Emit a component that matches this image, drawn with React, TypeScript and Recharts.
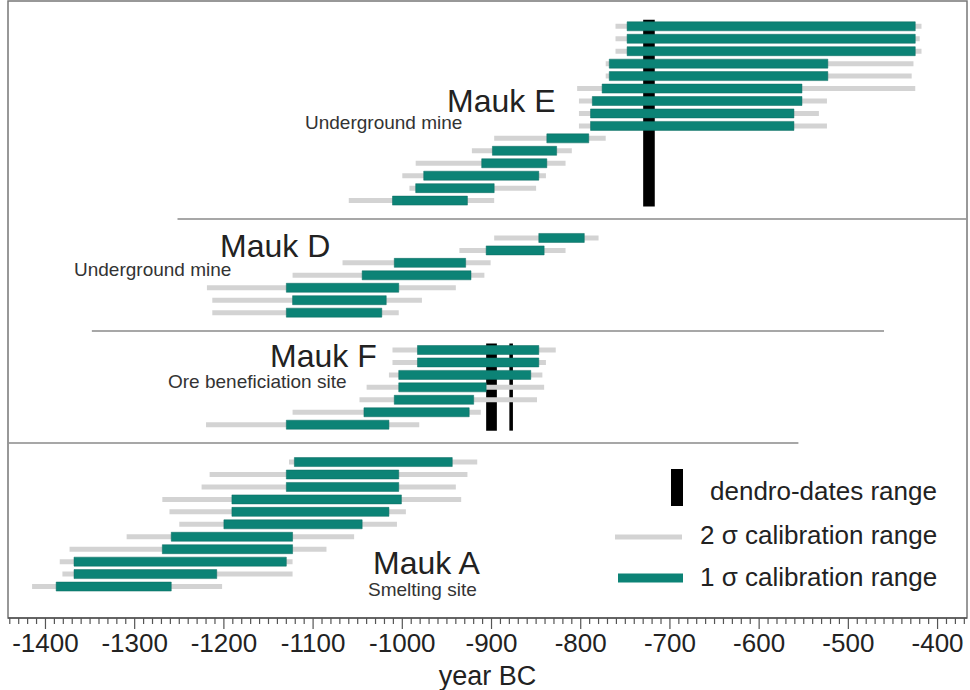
import { BarChart, Bar, XAxis, YAxis, ReferenceArea, ReferenceLine, Legend, Label } from 'recharts'

const TEAL = '#0c8376'
const GREY = '#d3d3d3'
const FONT = 'Arial, "Liberation Sans", sans-serif'
const NARROW = '"Liberation Sans Narrow", "Arial Narrow", Arial, sans-serif'

// calibrated ranges, year BC: [from, to]
const maukE2s = [
  [-761, -418], [-761, -420], [-761, -418], [-772, -427], [-772, -429],
  [-804, -425], [-802, -524], [-802, -533], [-802, -524], [-897, -772],
  [-922, -810], [-985, -817], [-1000, -839], [-992, -850], [-1060, -897],
]
const maukE1s = [
  [-748, -425], [-748, -425], [-748, -425], [-768, -523], [-768, -523],
  [-776, -552], [-787, -552], [-789, -561], [-789, -561], [-838, -791],
  [-899, -827], [-911, -838], [-976, -847], [-985, -897], [-1011, -927],
]
const maukD2s = [
  [-897, -780], [-936, -817], [-1067, -901], [-1123, -908], [-1219, -940],
  [-1213, -978], [-1213, -1004],
]
const maukD1s = [
  [-847, -796], [-906, -841], [-1009, -929], [-1045, -923], [-1130, -1004],
  [-1123, -1018], [-1130, -1023],
]
const maukF2s = [
  [-1011, -828], [-1011, -839], [-1015, -843], [-1040, -841], [-1048, -849],
  [-1123, -912], [-1220, -981],
]
const maukF1s = [
  [-983, -847], [-983, -847], [-1004, -856], [-1004, -906], [-1009, -920],
  [-1043, -925], [-1130, -1015],
]
const maukA2s = [
  [-1127, -916], [-1216, -927], [-1225, -940], [-1269, -934], [-1261, -996],
  [-1250, -1006], [-1309, -1054], [-1373, -1085], [-1384, -1123], [-1381, -1123],
  [-1415, -1202],
]
const maukA1s = [
  [-1121, -944], [-1130, -1004], [-1130, -1004], [-1191, -1001], [-1191, -1015],
  [-1200, -1045], [-1259, -1123], [-1269, -1123], [-1368, -1130], [-1368, -1208],
  [-1388, -1259],
]

// dendro-dates ranges
const dendroE = [[-730, -717]]
const dendroF = [[-906, -894], [-880, -876]]

const majorTicks = [-1400, -1300, -1200, -1100, -1000, -900, -800, -700, -600, -500, -400]
const minorTicks: number[] = []
for (let t = -1440; t <= -370; t += 10) minorTicks.push(t)

const section = (tag: string, two: number[][], one: number[][]) =>
  two.map((r, i) => ({ id: `${tag}${i + 1}`, two: r, one: one[i] }))
const spacer = (tag: string) => [0, 1].map((i) => ({ id: `${tag}${i}`, two: null, one: null }))

const rows = [
  ...section('E', maukE2s, maukE1s),
  ...spacer('gapED'),
  ...section('D', maukD2s, maukD1s),
  ...spacer('gapDF'),
  ...section('F', maukF2s, maukF1s),
  ...spacer('gapFA'),
  ...section('A', maukA2s, maukA1s),
]

const YearTick = ({ x, y, payload }: any) => {
  const major = majorTicks.includes(payload.value)
  return (
    <g>
      <line x1={x} x2={x} y1={y} y2={y + (major ? 11 : 6)} stroke="#555" strokeWidth={1.2} />
      {major && (
        <text x={x} y={y + 34} textAnchor="middle" fontSize={26} fontFamily={NARROW} fill="#222">
          {payload.value}
        </text>
      )}
    </g>
  )
}

const LegendBox = ({ payload }: any) => {
  const items = [...(payload || [])].sort((a: any, b: any) =>
    a.dataKey === 'two' ? -1 : b.dataKey === 'two' ? 1 : 0)
  return (
    <svg width={370} height={140} style={{ display: 'block' }}>
      <rect x={71} y={9} width={12} height={37} fill="#000" />
      <text x={110} y={40} fontSize={26} fontFamily={FONT} fill="#222">dendro-dates range</text>
      {items.map((it: any, i: number) => (
        <g key={i}>
          <line x1={15 + i * 3} x2={82 + i} y1={77 + i * 41} y2={77 + i * 41} stroke={it.color}
            strokeWidth={it.dataKey === 'two' ? 5 : 9} />
          <text x={100} y={84 + i * 42} fontSize={26} fontFamily={FONT} fill="#222">{it.value}</text>
        </g>
      ))}
    </svg>
  )
}

const title = { fontSize: 32, fontFamily: FONT, fill: '#222' }
const sub = { fontSize: 19, fontFamily: FONT, fill: '#333' }

export default function App() {
  return (
    <div style={{ position: 'absolute', left: 0, top: 0, width: 970, height: 690, background: '#fff' }}>
      <BarChart width={970} height={690} data={rows} layout="vertical"
        margin={{ top: 1, right: 3, bottom: 0, left: 8 }}>
        <rect x={8} y={1} width={959} height={617} fill="none" stroke="#777" strokeWidth={1.5} />
        <XAxis type="number" domain={[-1442, -367]} allowDataOverflow ticks={minorTicks}
          interval={0} tick={<YearTick />} tickLine={false} tickSize={0} tickMargin={0}
          height={72} axisLine={{ stroke: '#555', strokeWidth: 1.5 }}>
          <Label value="year BC" position="insideBottom" offset={5} fontSize={27}
            fontFamily={NARROW} fill="#222" />
        </XAxis>
        <YAxis yAxisId="g" type="category" dataKey="id" hide padding={{ top: 18.8, bottom: 25.5 }} />
        <YAxis yAxisId="s" type="category" dataKey="id" hide padding={{ top: 18.8, bottom: 25.5 }} />
        <Bar yAxisId="g" dataKey="two" name="2 σ calibration range" fill={GREY} barSize={5}
          isAnimationActive={false} />
        <Bar yAxisId="s" dataKey="one" name="1 σ calibration range" fill={TEAL} barSize={9}
          stroke="#0a6b61" strokeWidth={0.5} isAnimationActive={false} />
        <ReferenceLine yAxisId="s" position="start" stroke="#8a8a8a" strokeWidth={1.5}
          segment={[{ x: -1252, y: 'gapED1' }, { x: -368, y: 'gapED1' }]} />
        <ReferenceLine yAxisId="s" position="start" stroke="#8a8a8a" strokeWidth={1.5}
          segment={[{ x: -1348, y: 'gapDF1' }, { x: -460, y: 'gapDF1' }]} />
        <ReferenceLine yAxisId="s" position="start" stroke="#8a8a8a" strokeWidth={1.5}
          segment={[{ x: -1441, y: 'gapFA1' }, { x: -556, y: 'gapFA1' }]} />
        {dendroE.map(([a, b], i) => (
          <ReferenceArea key={`e${i}`} yAxisId="s" x1={a} x2={b} y1="E1" y2="E15"
            fill="#000" fillOpacity={1} ifOverflow="visible" />
        ))}
        {dendroF.map(([a, b], i) => (
          <ReferenceArea key={`f${i}`} yAxisId="s" x1={a} x2={b} y1="F1" y2="F7"
            fill="#000" fillOpacity={1} ifOverflow="visible" />
        ))}
        <text x={447} y={112} {...title}>Mauk E</text>
        <text x={305} y={129} {...sub}>Underground mine</text>
        <text x={220} y={257} {...title}>Mauk D</text>
        <text x={74} y={276} {...sub}>Underground mine</text>
        <text x={270} y={367} {...title}>Mauk F</text>
        <text x={168} y={388} {...sub}>Ore beneficiation site</text>
        <text x={373} y={574} {...title}>Mauk A</text>
        <text x={368} y={596} {...sub}>Smelting site</text>
        <Legend layout="vertical" align="center" verticalAlign="middle" content={<LegendBox />}
          wrapperStyle={{ left: 600, top: 460, width: 370, height: 140 }} />
      </BarChart>
    </div>
  )
}
